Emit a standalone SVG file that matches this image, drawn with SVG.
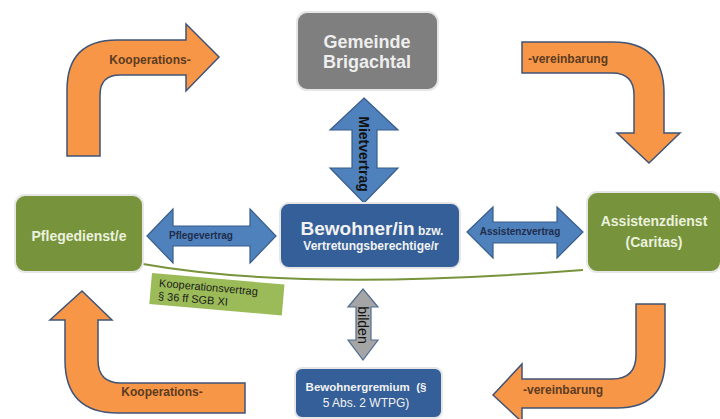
<svg xmlns="http://www.w3.org/2000/svg" width="720" height="419" viewBox="0 0 720 419">
<style>
.bend{fill:#f79646;stroke:#3f5477;stroke-width:1.5;stroke-linejoin:miter}
.blue{fill:#4f81bd;stroke:#385d8a;stroke-width:1.2}
.gray{fill:#a5a5a5;stroke:#4f6d91;stroke-width:1.2}
.box{stroke:#e6e6e6;stroke-width:2}
.t{font-family:"Liberation Sans",Arial,sans-serif;font-weight:bold}
.r{font-family:"Liberation Sans",Arial,sans-serif;font-weight:normal}
.ot{fill:#5b3b22;font-size:12px}
.nt{fill:#1f2d4a;font-size:10px}
.wt{fill:#f2f2f2}
</style>
<rect width="720" height="419" fill="#ffffff"/>
<g id="connectors">
  <path class="bend" d="M67,156 L67,90 Q67,40 117,40 L186,40 L186,24 L219,57 L186,91 L186,75 L120,75 Q100,75 100,95 L100,156 Z"/>
  <text class="t ot" x="150" y="64" text-anchor="middle">Kooperations-</text>
  <path class="bend" d="M522,42 L613,42 Q664,42 664,93 L664,133 L680,133 L649,163 L617,133 L634,133 L634,95 Q634,73 612,73 L522,73 Z"/>
  <text class="t ot" x="528" y="63">-vereinbarung</text>
  <path class="bend" d="M82,291 L112,320 L98,320 L98,360 Q98,383 121,383 L245,383 L245,413 L118,413 Q65,413 65,360 L65,320 L50,320 Z"/>
  <text class="t ot" x="162" y="396" text-anchor="middle">Kooperations-</text>
  <path class="bend" d="M636,304 L665,304 L665,360 Q665,408 617,408 L522,408 L522,422 L493,395 L522,364 L522,379 L612,379 Q636,379 636,355 Z"/>
  <text class="t ot" x="523" y="394">-vereinbarung</text>
  <path class="blue" d="M364,98 L398,130 L377,130 L377,168 L398,168 L364,203 L330,168 L352,168 L352,130 L330,130 Z"/>
  <text class="t" x="0" y="0" font-size="14" fill="#111" text-anchor="middle" transform="translate(359,154) rotate(90)">Mietvertrag</text>
  <path class="blue" d="M147,236 L173,209 L173,226 L250,226 L250,209 L276,236 L250,263 L250,246 L173,246 L173,263 Z"/>
  <text class="t nt" x="201" y="239" text-anchor="middle">Pflegevertrag</text>
  <path class="blue" d="M467,232 L493,207 L493,222 L557,222 L557,207 L583,232 L557,258 L557,243 L493,243 L493,258 Z"/>
  <text class="t nt" x="520" y="235" text-anchor="middle">Assistenzvertrag</text>
  <path class="gray" d="M363,289 L378,307 L371,307 L371,340 L378,340 L363,360 L348,340 L356,340 L356,307 L348,307 Z"/>
  <text class="r" x="0" y="0" font-size="14" fill="#111" text-anchor="middle" transform="translate(358,325) rotate(90)">bilden</text>
  <path d="M143,264 Q300,292 583,270" fill="none" stroke="#77933c" stroke-width="2"/>
</g>
<g id="kooperationsvertrag" transform="translate(152,273) rotate(5)">
  <rect x="0" y="0" width="133" height="31" fill="#9bbb59"/>
  <text class="r" x="8" y="13" font-size="11" fill="#1a1a1a">Kooperationsvertrag</text>
  <text class="r" x="8" y="26" font-size="11" fill="#1a1a1a">§ 36 ff SGB XI</text>
</g>
<g id="gemeinde">
  <rect class="box" x="297" y="12" width="141" height="78" rx="10" fill="#7f7f7f"/>
  <text class="t" x="367" y="48" font-size="18" fill="#eeeeee" text-anchor="middle">Gemeinde</text>
  <text class="t" x="367" y="68" font-size="18" fill="#eeeeee" text-anchor="middle">Brigachtal</text>
</g>
<g id="bewohner">
  <rect class="box" x="280" y="203" width="180" height="65" rx="9" fill="#345f99"/>
  <text class="t wt" x="372" y="235" text-anchor="middle"><tspan font-size="19">Bewohner/in</tspan><tspan font-size="12"> bzw.</tspan></text>
  <text class="t wt" x="371" y="250" font-size="12" text-anchor="middle">Vertretungsberechtige/r</text>
</g>
<g id="pflegedienst">
  <rect class="box" x="15" y="195" width="128" height="77" rx="10" fill="#77933c"/>
  <text class="t" x="79" y="241" font-size="14" fill="#ebf1de" text-anchor="middle">Pflegedienst/e</text>
</g>
<g id="assistenzdienst">
  <rect class="box" x="587" y="192" width="134" height="80" rx="10" fill="#77933c"/>
  <text class="t" x="654" y="226" font-size="14" fill="#ebf1de" text-anchor="middle">Assistenzdienst</text>
  <text class="t" x="654" y="247" font-size="14" fill="#ebf1de" text-anchor="middle">(Caritas)</text>
</g>
<g id="gremium">
  <rect class="box" x="295" y="368" width="147" height="50" rx="7" fill="#345f99"/>
  <text class="t wt" x="366" y="391" font-size="11.5" text-anchor="middle" xml:space="preserve">Bewohnergremium  (§</text>
  <text class="r wt" x="366" y="407" font-size="12" text-anchor="middle">5 Abs. 2 WTPG)</text>
</g>
</svg>
